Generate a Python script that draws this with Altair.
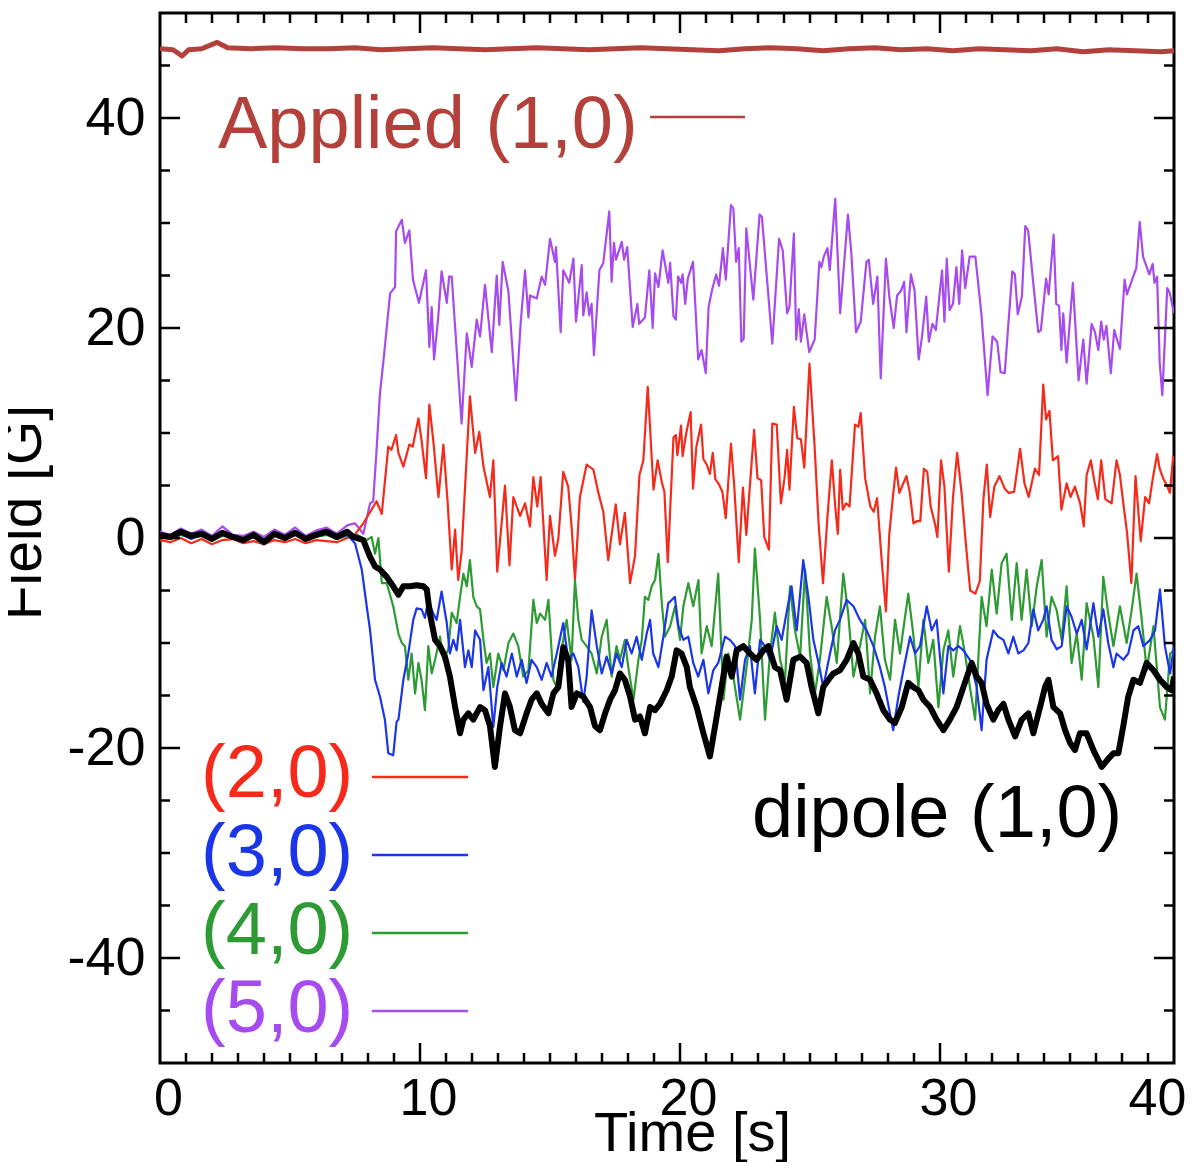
import altair as alt
import pandas as pd

# ---------------- data ----------------
pre_t = [0, 0.4, 0.8, 1.2, 1.6, 2.0, 2.4, 2.8, 3.2, 3.6, 4.0, 4.4, 4.8, 5.2, 5.6, 6.0, 6.4, 6.8, 7.2]

applied_t = [0, 0.5, 0.85, 1.1, 1.6, 2.2, 2.6, 3.5, 4.5, 5.5, 6.5, 7.5, 8.5, 9.5, 10.5, 11.5, 12.5, 13.5,
             14.5, 15.5, 16.5, 17.5, 18.5, 19.5, 20.5, 21.5, 22.5, 23.5, 24.5, 25.5, 26.5, 27.5, 28.5, 29.5,
             30.5, 31.5, 32.5, 33.5, 34.5, 35.5, 36.5, 37.5, 38.5, 39.0]
applied_v = [46.6, 46.5, 45.9, 46.5, 46.6, 47.2, 46.7, 46.6, 46.7, 46.6, 46.6, 46.7, 46.5, 46.6, 46.7, 46.6,
             46.5, 46.6, 46.7, 46.6, 46.5, 46.6, 46.7, 46.6, 46.5, 46.4, 46.6, 46.7, 46.6, 46.4, 46.6, 46.7,
             46.5, 46.6, 46.4, 46.6, 46.5, 46.4, 46.6, 46.3, 46.5, 46.4, 46.3, 46.4]

m5_t = pre_t + [7.5, 7.82, 8.08, 8.2, 8.33, 8.46, 8.6, 8.85, 9.04, 9.08, 9.3, 9.42, 9.59, 9.73, 9.96, 10.23,
        10.36, 10.45, 10.54, 10.7, 10.83, 11.03, 11.12, 11.22, 11.6, 11.8, 11.99, 12.18, 12.31, 12.5, 12.76,
        12.95, 13.05, 13.18, 13.4, 13.69, 13.87, 14.04, 14.17, 14.23, 14.49, 14.68, 14.81, 15.0, 15.19, 15.23,
        15.41, 15.51, 15.74, 15.9, 16.0, 16.22, 16.28, 16.41, 16.51, 16.6, 16.69, 16.9, 17.05, 17.28, 17.37,
        17.46, 17.54, 17.76, 17.85, 17.97, 18.18, 18.36, 18.43, 18.65, 18.82, 18.95, 19.04, 19.17, 19.33,
        19.55, 19.62, 19.75, 19.84, 19.93, 20.04, 20.1, 20.2, 20.3, 20.5, 20.7, 20.83, 20.99, 21.1, 21.23,
        21.39, 21.5, 21.65, 21.76, 21.96, 22.05, 22.16, 22.26, 22.36, 22.45, 22.55, 22.82, 23.06, 23.15,
        23.55, 23.81, 23.95, 24.12, 24.21, 24.38, 24.47, 24.57, 24.65, 24.78, 24.97, 25.18, 25.36, 25.44,
        25.53, 25.67, 25.76, 25.97, 26.16, 26.46, 26.59, 26.77, 26.95, 27.17, 27.26, 27.43, 27.59, 27.72,
        27.92, 28.05, 28.22, 28.35, 28.51, 28.62, 28.71, 28.88, 29.02, 29.18, 29.31, 29.47, 29.57, 29.71,
        29.84, 30.08, 30.17, 30.26, 30.37, 30.5, 30.63, 30.74, 30.85, 30.97, 31.14, 31.36, 31.59, 31.83,
        32.02, 32.2, 32.33, 32.49, 32.78, 32.88, 32.99, 33.15, 33.28, 33.39, 33.57, 33.78, 33.88, 34.08,
        34.18, 34.37, 34.47, 34.58, 34.67, 34.74, 34.87, 35.11, 35.33, 35.51, 35.64, 35.83, 35.96, 36.09,
        36.2, 36.3, 36.4, 36.57, 36.7, 36.92, 37.1, 37.19, 37.39, 37.55, 37.68, 37.81, 38.05, 38.18, 38.25,
        38.35, 38.45, 38.55, 38.74, 38.84, 39.0]
m5_v = [0.6, 0.3, 0.9, 0.4, 0.8, 0.2, 1.1, 0.3, 0.2, 0.6, 0.1, 0.8, 0.3, 1.0, 0.2, 0.7, 1.0, 0.4, 1.2] + [
        1.4, 0.4, 3.3, 3.5, 8.4, 13.8, 17.0, 23.3, 23.9, 29.2, 30.3, 28.1, 29.3, 24.6, 22.4, 25.5,
        18.2, 22.0, 17.0, 21.0, 25.4, 22.4, 24.9, 24.9, 10.9, 19.5, 16.3, 20.8, 19.2, 24.1, 17.7,
        25.0, 20.3, 26.3, 23.5, 13.1, 20.4, 25.5, 21.0, 23.1, 22.8, 24.9, 24.1, 28.5, 26.3, 27.7,
        19.6, 25.5, 24.3, 26.6, 20.6, 26.0, 21.2, 23.4, 21.2, 22.3, 17.4, 25.5, 26.2, 31.1, 24.4,
        28.1, 26.5, 28.2, 26.5, 27.7, 20.1, 22.3, 20.4, 21.0, 25.5, 20.0, 25.2, 23.9, 27.4,
        24.3, 26.2, 21.1, 20.8, 24.9, 24.3, 25.1, 22.3, 24.7, 26.3, 17.0, 17.9, 15.7, 22.0, 23.6,
        25.1, 24.0, 27.6, 24.6, 31.7, 31.4, 26.3, 27.6, 18.7, 19.0, 29.5, 22.7, 30.8, 30.6,
        18.5, 28.5, 27.4, 21.4, 22.0, 29.0, 18.9, 21.8, 18.7, 21.3, 17.7, 18.9, 26.3, 25.8,
        26.8, 27.6, 25.5, 32.3, 21.4, 30.8, 27.1, 19.6, 20.6, 26.3, 26.5, 22.3, 24.9, 15.2,
        26.6, 23.0, 20.0, 23.1, 23.6, 24.4, 19.6, 25.1, 23.6, 17.0, 19.2, 23.0, 18.7, 20.4,
        19.8, 25.5, 20.6, 26.6, 21.7, 22.3, 25.8, 22.3, 27.4, 23.8, 26.8, 26.8, 21.4, 13.6,
        19.2, 18.7, 15.8, 15.7, 25.4, 25.1, 21.3, 23.0, 29.7, 29.3, 24.7, 19.6, 19.8, 24.7,
        23.2, 28.9, 22.3, 22.1, 17.9, 21.4, 16.7, 24.3, 15.0, 18.9, 14.7, 20.4, 19.6, 17.9,
        20.6, 18.9, 20.2, 15.7, 19.8, 18.0, 24.6, 23.2, 24.6, 25.7, 30.1, 26.8, 25.1, 26.1, 24.3,
        24.9, 16.7, 13.6, 23.8, 23.3, 21.4]

m2_t = pre_t + [7.43, 7.82, 8.33, 8.53, 8.78, 8.9, 9.08, 9.17, 9.36, 9.59, 9.72, 9.94, 10.06, 10.23, 10.36,
        10.51, 10.71, 10.9, 11.06, 11.22, 11.35, 11.47, 11.6, 11.92, 12.12, 12.28, 12.44, 12.69, 12.82, 12.97,
        13.27, 13.44, 13.59, 13.72, 13.85, 14.04, 14.23, 14.36, 14.51, 14.64, 14.87, 15.0, 15.19, 15.32, 15.51,
        15.7, 15.83, 15.96, 16.15, 16.41, 16.67, 16.86, 17.05, 17.24, 17.37, 17.53, 17.69, 17.88, 18.08, 18.27,
        18.44, 18.59, 18.76, 18.98, 19.14, 19.31, 19.4, 19.53, 19.75, 19.84, 19.9, 20.04, 20.1, 20.24, 20.41,
        20.5, 20.63, 20.81, 20.9, 21.03, 21.15, 21.26, 21.36, 21.5, 21.63, 21.76, 21.96, 22.09, 22.26, 22.42,
        22.55, 22.68, 22.85, 22.98, 23.12, 23.24, 23.42, 23.55, 23.72, 23.88, 24.02, 24.12, 24.21, 24.38,
        24.51, 24.65, 24.78, 24.98, 25.18, 25.33, 25.5, 25.67, 25.84, 25.97, 26.07, 26.16, 26.26, 26.39,
        26.52, 26.73, 26.86, 26.95, 27.12, 27.32, 27.45, 27.58, 27.75, 27.92, 28.05, 28.18, 28.31, 28.44,
        28.57, 28.71, 28.84, 28.98, 29.11, 29.24, 29.38, 29.51, 29.64, 29.81, 29.9, 30.04, 30.17, 30.34,
        30.5, 30.66, 30.83, 31.0, 31.16, 31.36, 31.53, 31.67, 31.8, 31.93, 32.09, 32.29, 32.49, 32.64,
        32.85, 33.08, 33.25, 33.41, 33.65, 33.81, 33.97, 34.08, 34.21, 34.34, 34.54, 34.67, 34.87, 35.02,
        35.19, 35.39, 35.53, 35.64, 35.8, 35.93, 36.07, 36.2, 36.36, 36.6, 36.79, 36.92, 37.05, 37.19,
        37.36, 37.52, 37.72, 37.89, 38.04, 38.18, 38.35, 38.45, 38.58, 38.71, 38.84, 38.97]
m2_v = [-0.2, -0.4, 0.0, -0.5, -0.1, -0.6, -0.2, -0.1, -0.5, -0.3, -0.6, -0.2, -0.4, -0.1, -0.5, -0.2, -0.3,
        -0.4, 0.0] + [
        0.1, 1.4, 3.5, 2.3, 8.7, 8.4, 9.8, 8.1, 6.8, 8.9, 8.7, 11.4, 9.3, 5.7, 12.7,
        9.3, 3.9, 8.9, 3.5, -3.0, 0.8, -4.0, -1.3, 13.5, 8.1, 10.1, 6.8, 3.9, 7.4, -3.2,
        5.0, -2.6, 3.9, 3.0, 2.1, 3.3, 1.1, 5.8, 3.0, 5.8, -4.0, 2.1, -1.7, -0.1, 6.3,
        4.9, 1.1, -4.0, 3.9, 7.0, 6.5, 4.3, 2.5, -2.1, 0.3, 3.2, -0.6, 2.4, -4.3, -1.7,
        6.0, 7.4, 14.4, 4.6, 7.4, 5.2, 4.4, -2.3, 9.6, 9.8, 7.9, 10.7, 7.8, 10.0, 12.0,
        4.7, 8.7, 10.8, 7.5, 7.0, 6.1, 8.1, 5.6, 5.1, 4.4, 1.9, 9.0, 4.8, -2.3, 4.8,
        0.3, 4.7, 10.3, 5.7, 5.5, 0.1, -1.1, 10.9, 10.8, 3.3, 5.7, 8.4, 4.6, 12.5,
        9.5, 9.4, 6.7, 16.6, 8.6, 1.4, -4.3, 2.0, 7.4, 3.0, 0.4, 6.5, 2.7, 3.3,
        3.0, 10.8, 10.6, 11.9, 5.7, 3.0, 2.5, 3.8, -1.9, -7.0, 0.4, 3.7, 6.7, 4.3,
        5.1, 5.9, 4.3, 1.4, 1.6, 1.6, 6.6, 6.3, 3.0, 1.3, 0.1, 7.4, 4.9, -3.2,
        3.9, 8.1, 4.3, -0.7, -5.0, -5.3, -4.1, 3.7, 7.0, 2.0, 4.9, 5.9, 4.7, 4.3,
        4.4, 8.5, 5.2, 3.9, 6.6, 6.0, 14.6, 11.3, 12.1, 7.4, 7.8, 2.7, 5.2, 3.9,
        4.9, 3.3, 1.1, 6.0, 7.4, 5.5, 3.7, 7.4, 3.7, 3.3, 7.4, 6.0, 3.3, 0.6,
        -4.3, 5.9, -0.3, 3.9, 3.3, 5.6, 8.0, 6.6, 5.7, 5.1, 4.3, 7.8]

m4_t = pre_t + [7.6, 7.95, 8.14, 8.27, 8.4, 8.53, 8.72, 8.97, 9.17, 9.3, 9.42, 9.55, 9.68, 9.81, 9.94, 10.06,
        10.19, 10.32, 10.45, 10.58, 10.77, 10.9, 11.09, 11.22, 11.41, 11.54, 11.67, 11.8, 11.92, 12.05, 12.18,
        12.31, 12.44, 12.56, 12.69, 12.82, 13.01, 13.21, 13.4, 13.59, 13.78, 13.97, 14.17, 14.36, 14.49,
        14.62, 14.81, 14.94, 15.13, 15.26, 15.38, 15.64, 15.83, 15.96, 16.09, 16.22, 16.41, 16.6, 16.8,
        16.99, 17.18, 17.37, 17.56, 17.69, 17.88, 18.01, 18.21, 18.4, 18.53, 18.65, 18.78, 18.91, 19.04,
        19.17, 19.3, 19.42, 19.62, 19.81, 20.0, 20.13, 20.32, 20.51, 20.71, 20.83, 21.03, 21.22, 21.47,
        21.67, 21.86, 22.05, 22.31, 22.56, 22.76, 22.88, 23.08, 23.27, 23.46, 23.65, 23.85, 24.04, 24.23,
        24.42, 24.62, 24.81, 25.0, 25.19, 25.38, 25.64, 25.83, 26.03, 26.28, 26.47, 26.67, 26.92, 27.12,
        27.31, 27.5, 27.69, 27.88, 28.08, 28.27, 28.46, 28.78, 28.97, 29.17, 29.36, 29.55, 29.74, 29.94,
        30.13, 30.32, 30.51, 30.77, 30.96, 31.15, 31.35, 31.6, 31.79, 31.99, 32.18, 32.37, 32.56, 32.76,
        32.95, 33.14, 33.33, 33.53, 33.72, 33.91, 34.1, 34.29, 34.49, 34.68, 34.87, 35.06, 35.26, 35.45,
        35.64, 35.9, 36.09, 36.28, 36.47, 36.67, 36.92, 37.18, 37.37, 37.56, 37.76, 37.95, 38.21, 38.46,
        38.65, 38.85, 39.0]
m4_v = [0.1, -0.1, 0.3, 0.0, 0.2, -0.2, 0.2, 0.0, -0.3, 0.1, -0.2, 0.2, -0.1, 0.3, 0.0, 0.1, 0.3, -0.1, 0.2] + [
        0.3, -0.2, 0.1, -1.5, 0.0, -4.3, -4.3, -6.5, -9.1, -10.0, -10.3, -13.5, -11.0, -14.8, -11.9, -13.5,
        -16.4, -10.3, -12.9, -11.6, -9.4, -11.6, -10.6, -7.1, -8.1, -5.6, -3.4, -4.6, -2.1, -5.6, -6.5,
        -6.8, -9.7, -11.9, -11.0, -14.2, -11.0, -12.6, -10.0, -9.1, -10.3, -13.2, -12.6, -5.9, -8.1,
        -7.2, -7.8, -5.9, -13.5, -14.2, -11.6, -7.8, -11.6, -4.0, -7.8, -9.7, -10.3, -11.0, -12.9,
        -9.4, -7.8, -13.2, -10.3, -11.6, -9.7, -12.3, -15.4, -11.6, -9.7, -5.6, -5.9, -4.6, -4.0,
        -1.5, -6.2, -9.4, -8.4, -6.5, -9.7, -6.5, -4.3, -6.5, -4.0, -11.0, -8.4, -10.3, -3.4,
        -15.4, -11.0, -13.2, -17.3, -12.3, -7.8, -1.0, -7.8, -17.3, -11.0, -7.1, -11.6, -13.5, -4.6,
        -8.8, -11.3, -3.0, -11.0, -14.8, -11.6, -5.6, -8.4, -11.9, -3.4, -7.2, -13.2, -10.3, -7.8,
        -14.8, -9.4, -6.5, -11.6, -13.5, -7.8, -11.0, -5.3, -9.1, -14.2, -7.8, -11.9, -9.7, -16.1,
        -10.7, -8.8, -13.2, -8.4, -11.0, -14.2, -17.3, -5.6, -8.4, -3.0, -7.2, -2.4, -1.5, -7.8,
        -2.4, -7.8, -3.0, -8.4, -4.6, -2.1, -9.4, -5.6, -6.9, -9.7, -4.6, -11.9, -9.1, -13.5,
        -6.2, -9.4, -14.2, -3.7, -7.2, -10.3, -6.5, -10.0, -6.9, -3.4, -7.8, -12.6, -8.4, -16.1,
        -17.3, -11.0, -10.7]

m3_t = pre_t + [7.5, 7.76, 7.95, 8.08, 8.27, 8.46, 8.65, 8.78, 8.97, 9.1, 9.17, 9.36, 9.55, 9.74, 9.87, 10.06,
        10.19, 10.32, 10.51, 10.64, 10.83, 11.03, 11.15, 11.28, 11.41, 11.54, 11.73, 11.86, 11.99, 12.12,
        12.31, 12.44, 12.63, 12.82, 12.97, 13.14, 13.33, 13.53, 13.72, 13.91, 14.1, 14.29, 14.49, 14.68,
        14.87, 15.06, 15.26, 15.51, 15.7, 15.9, 16.09, 16.28, 16.41, 16.6, 16.8, 16.99, 17.18, 17.37, 17.56,
        17.76, 17.95, 18.14, 18.33, 18.53, 18.72, 18.85, 18.97, 19.17, 19.36, 19.55, 19.68, 19.8, 19.94,
        20.13, 20.32, 20.51, 20.7, 20.9, 21.09, 21.28, 21.47, 21.73, 21.92, 22.12, 22.31, 22.5, 22.69,
        22.88, 23.08, 23.27, 23.46, 23.72, 23.91, 24.1, 24.29, 24.49, 24.74, 24.94, 25.13, 25.33, 25.51,
        25.77, 25.96, 26.15, 26.41, 26.67, 26.92, 27.18, 27.44, 27.69, 27.88, 28.2, 28.4, 28.59, 28.85,
        29.04, 29.23, 29.49, 29.68, 29.87, 30.13, 30.32, 30.51, 30.71, 30.9, 31.15, 31.41, 31.6, 31.79,
        32.05, 32.24, 32.44, 32.63, 32.82, 33.01, 33.21, 33.4, 33.59, 33.78, 33.97, 34.1, 34.29, 34.49,
        34.68, 34.87, 35.06, 35.26, 35.45, 35.64, 35.9, 36.09, 36.28, 36.47, 36.67, 36.79, 37.05, 37.24,
        37.44, 37.63, 37.82, 38.08, 38.27, 38.46, 38.65, 38.85, 39.0]
m3_v = [0.2, 0.0, 0.4, -0.1, 0.3, -0.1, 0.3, 0.1, -0.2, 0.2, -0.3, 0.3, 0.0, 0.4, -0.1, 0.2, 0.4, 0.0, 0.3] + [
        -0.5, -3.0, -6.5, -8.8, -13.5, -15.1, -17.3, -20.5, -20.7, -17.5, -17.3, -13.5, -11.0, -7.8, -6.7, -6.8,
        -7.6, -5.9, -7.2, -7.8, -5.1, -8.1, -11.0, -9.7, -10.7, -7.8, -12.3, -10.7, -12.3, -8.8,
        -9.7, -14.5, -12.3, -18.0, -14.2, -11.9, -13.2, -11.0, -13.2, -11.6, -13.8, -11.6, -12.3, -13.5,
        -11.9, -13.2, -11.0, -8.1, -11.6, -11.0, -12.3, -15.6, -13.2, -6.9, -10.3, -12.9, -11.3, -12.9, -11.0,
        -12.3, -9.7, -11.0, -9.4, -11.6, -9.1, -7.8, -11.0, -12.3, -9.4, -6.2, -5.9, -5.6, -8.4,
        -9.7, -9.4, -11.9, -13.2, -11.6, -14.8, -12.6, -11.9, -9.4, -9.7, -10.3, -15.4, -11.6, -10.3,
        -14.8, -9.7, -10.3, -11.6, -8.4, -9.7, -7.1, -4.6, -8.8, -2.1, -5.6, -9.7, -11.9, -14.2,
        -11.0, -8.8, -7.8, -5.9, -6.5, -7.8, -8.8, -10.3, -12.3, -14.2, -18.3, -15.1, -12.6, -9.4,
        -11.0, -10.3, -6.5, -8.8, -7.8, -14.8, -10.3, -10.7, -10.3, -10.7, -11.6, -14.2, -18.3, -11.6,
        -8.8, -9.4, -9.7, -11.0, -9.4, -11.0, -10.7, -10.0, -6.8, -8.8, -7.8, -6.5, -9.7, -10.6,
        -10.3, -6.5, -7.5, -9.1, -7.8, -10.6, -6.2, -9.4, -6.8, -10.0, -12.3, -11.0, -11.6, -11.0,
        -8.8, -8.4, -10.3, -9.7, -8.8, -4.9, -10.3, -12.9, -10.3]

m1_t = pre_t + [7.44, 7.82, 8.08, 8.27, 8.46, 8.72, 8.97, 9.17, 9.36, 9.62, 9.87, 10.13, 10.26, 10.38, 10.58,
        10.77, 10.96, 11.15, 11.35, 11.54, 11.67, 11.86, 12.05, 12.31, 12.5, 12.69, 12.88, 13.08, 13.27, 13.46,
        13.65, 13.85, 14.1, 14.29, 14.49, 14.68, 14.94, 15.13, 15.32, 15.51, 15.7, 15.83, 16.03, 16.28, 16.54,
        16.73, 16.92, 17.12, 17.31, 17.5, 17.69, 17.88, 18.08, 18.27, 18.46, 18.65, 18.85, 19.04, 19.23,
        19.49, 19.68, 19.87, 20.06, 20.26, 20.38, 20.64, 20.9, 21.15, 21.35, 21.54, 21.79, 21.99, 22.18,
        22.44, 22.69, 22.95, 23.21, 23.4, 23.65, 23.85, 24.1, 24.36, 24.62, 24.87, 25.06, 25.32, 25.51,
        25.71, 25.9, 26.15, 26.41, 26.67, 26.86, 27.05, 27.31, 27.56, 27.82, 28.08, 28.27, 28.53, 28.78,
        28.97, 29.17, 29.36, 29.62, 29.87, 30.13, 30.38, 30.64, 30.9, 31.22, 31.41, 31.6, 31.79, 32.05,
        32.24, 32.44, 32.63, 32.89, 33.14, 33.4, 33.59, 33.85, 34.04, 34.17, 34.36, 34.62, 34.81, 35.0,
        35.19, 35.38, 35.64, 35.9, 36.22, 36.41, 36.67, 36.86, 37.05, 37.24, 37.44, 37.69, 37.95, 38.21,
        38.46, 38.72, 38.91, 39.0]
m1_v = [0.3, 0.1, 0.6, 0.2, 0.4, -0.1, 0.5, 0.1, -0.2, 0.3, -0.4, 0.4, 0.0, 0.5, -0.1, 0.3, 0.6, 0.1, 0.6] + [
        0.1, -0.2, -1.8, -2.7, -3.0, -3.7, -4.6, -5.4, -4.6, -4.6, -4.5, -4.6, -4.9, -7.2, -9.7,
        -10.3, -11.3, -13.2, -16.1, -18.6, -17.3, -16.7, -17.3, -16.1, -16.4, -17.9, -21.8, -17.9, -14.8, -16.1,
        -18.3, -18.6, -16.7, -15.4, -14.8, -15.8, -16.7, -14.8, -14.2, -10.4, -11.6, -16.1, -14.8, -15.1, -16.1,
        -17.9, -18.3, -16.7, -15.4, -14.5, -12.9, -13.5, -15.1, -17.3, -17.0, -18.6, -16.1, -16.4, -15.8,
        -14.5, -13.2, -10.7, -11.0, -12.3, -14.2, -16.1, -18.6, -20.8, -17.9, -15.1, -11.3, -13.2, -10.7,
        -10.3, -11.0, -11.6, -10.7, -10.3, -12.3, -12.6, -15.4, -11.6, -11.3, -11.9, -14.2, -16.7, -14.2,
        -13.5, -12.9, -12.6, -11.6, -10.0, -11.0, -13.2, -13.5, -14.8, -16.4, -17.3, -17.6, -16.1, -13.8,
        -14.2, -14.5, -15.4, -16.1, -17.3, -18.3, -17.3, -16.1, -14.2, -11.9, -13.2, -13.8, -15.8, -17.3,
        -16.4, -15.8, -17.3, -18.9, -17.3, -16.7, -18.6, -16.1, -14.2, -13.5, -16.1, -16.7, -18.3, -19.5,
        -20.2, -18.6, -18.6, -20.2, -21.8, -21.2, -20.5, -20.5, -17.9, -15.1, -13.5, -13.8, -11.9, -12.6,
        -13.5, -14.2, -14.5, -13.2]

# legend / annotation text (anchor in data coordinates)
label_text = ["Applied (1,0)", "(2,0)", "(3,0)", "(4,0)", "(5,0)", "dipole (1,0)"]
label_t = [2.23, 1.58, 1.58, 1.58, 1.58, 22.77]
label_v = [37.14, -24.67, -32.19, -39.62, -47.05, -28.48]
label_col = ["#B3403A", "#F52A1A", "#1A36E8", "#2E9A33", "#A64BEF", "#000000"]

seg_t1 = [18.85, 8.15, 8.15, 8.15, 8.15]
seg_t2 = [22.5, 11.85, 11.85, 11.85, 11.85]
seg_v = [40.1, -22.76, -30.19, -37.62, -45.05]
seg_col = ["#B3403A", "#F52A1A", "#1A36E8", "#2E9A33", "#A64BEF"]

x_minor = [1, 2, 3, 4, 5, 6, 7, 8, 9, 11, 12, 13, 14, 15, 16, 17, 18, 19, 21, 22, 23, 24, 25, 26, 27, 28, 29,
           31, 32, 33, 34, 35, 36, 37, 38]
x_major = [10, 20, 30]
y_minor = [-45, -35, -30, -25, -15, -10, -5, 5, 10, 15, 25, 30, 35, 45]
y_major = [-40, -20, 0, 20, 40]
x_label_vals = [0, 10, 20, 30, 39]
y_label_vals = [-40, -20, 0, 20, 40]

# ---------------- chart ----------------
W, H = 1014, 1050
FONT = "Liberation Sans"

xs = alt.Scale(domain=[0, 39], nice=False, zero=False)
ys = alt.Scale(domain=[-50, 50], nice=False, zero=False)

x_axis = alt.Axis(values=x_label_vals, labelExpr="datum.value >= 39 ? '40' : datum.label",
                  domain=False, ticks=False, tickSize=0, grid=False, labelFlush=False, labelOverlap=False,
                  labelFont=FONT, labelFontSize=52, labelColor="black", labelPadding=10,
                  labelOffset={"condition": {"test": "datum.value >= 39", "value": -17}, "value": 8},
                  titleFont=FONT, titleFontSize=56, titleFontWeight="normal", titleColor="black",
                  titleX=532, titleY=87, titleBaseline="alphabetic", titleAlign="center")
y_axis = alt.Axis(values=y_label_vals, labelExpr="datum.value < 0 ? '-' + (-datum.value) : datum.label",
                  domain=False, ticks=False, tickSize=0, grid=False,
                  labelFont=FONT, labelFontSize=54, labelColor="black", labelPadding=15, labelOverlap=False,
                  titleFont=FONT, titleFontSize=57, titleFontWeight="normal", titleColor="black",
                  titleAngle=270, titleX=-120, titleY=499, titleBaseline="alphabetic", titleAlign="center")


def X(field="t"):
    return alt.X(f"{field}:Q", scale=xs, axis=x_axis, title="Time [s]")


def Y(field="v"):
    return alt.Y(f"{field}:Q", scale=ys, axis=y_axis, title="Field [G]")


def series(ts, vs, color, width):
    df = pd.DataFrame({"t": ts, "v": vs})
    return alt.Chart(df).mark_line(color=color, strokeWidth=width, clip=True,
                                   strokeJoin="round").encode(x=X(), y=Y(), order="t:Q")


layers = [
    series(applied_t, applied_v, "#B3403A", 5),
    series(m5_t, m5_v, "#A64BEF", 2.2),
    series(m2_t, m2_v, "#F52A1A", 2.2),
    series(m4_t, m4_v, "#2E9A33", 2.2),
    series(m3_t, m3_v, "#1A36E8", 2.2),
    series(m1_t, m1_v, "#000000", 6),
]

# legend segments
seg_df = pd.DataFrame({"t": seg_t1, "t2": seg_t2, "v": seg_v, "c": seg_col})
layers.append(alt.Chart(seg_df).mark_rule(strokeWidth=2.5).encode(
    x=X(), x2="t2:Q", y=Y(), color=alt.Color("c:N", scale=None)))

# legend / annotation text
lab_df = pd.DataFrame({"t": label_t, "v": label_v, "txt": label_text, "c": label_col})
layers.append(alt.Chart(lab_df).mark_text(align="left", baseline="alphabetic", font=FONT,
                                          fontSize=74).encode(
    x=X(), y=Y(), text="txt:N", color=alt.Color("c:N", scale=None)))

# inward ticks on all four sides
tick_w = 2.5
xmi = pd.DataFrame({"t": x_minor})
xma = pd.DataFrame({"t": x_major})
ymi = pd.DataFrame({"v": y_minor})
yma = pd.DataFrame({"v": y_major})
for df, ln in ((xmi, 10), (xma, 20)):
    layers.append(alt.Chart(df).mark_rule(color="black", strokeWidth=tick_w).encode(
        x=X(), y=alt.value(H), y2=alt.value(H - ln)))
    layers.append(alt.Chart(df).mark_rule(color="black", strokeWidth=tick_w).encode(
        x=X(), y=alt.value(0), y2=alt.value(ln)))
for df, ln in ((ymi, 10), (yma, 20)):
    layers.append(alt.Chart(df).mark_rule(color="black", strokeWidth=tick_w).encode(
        y=Y(), x=alt.value(0), x2=alt.value(ln)))
    layers.append(alt.Chart(df).mark_rule(color="black", strokeWidth=tick_w).encode(
        y=Y(), x=alt.value(W), x2=alt.value(W - ln)))

chart = alt.layer(*layers).properties(
    width=W, height=H,
    autosize=alt.AutoSizeParams(type="none"),
    padding={"left": 152, "top": 5, "right": 14, "bottom": 99},
    background="white",
).configure_view(stroke="black", strokeWidth=3)

chart.save("out.html", embed_options={"renderer": "svg", "actions": False})
